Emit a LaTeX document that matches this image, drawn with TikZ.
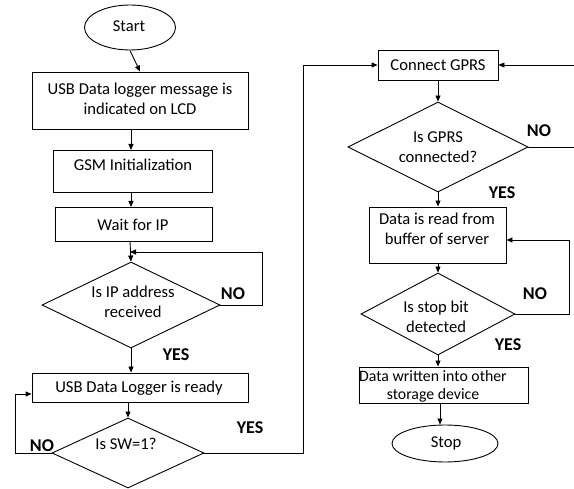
\documentclass[tikz,border=0pt]{standalone}
\usepackage{fontspec}
\setmainfont{Carlito}
\usetikzlibrary{shapes.geometric,arrows.meta}
\begin{document}
\begin{tikzpicture}[x=1pt,y=-1pt,
  line width=0.9pt,
  every node/.style={font=\fontsize{16.6}{20.5}\selectfont},
  box/.style={draw, rectangle, inner sep=0pt},
  dia/.style={draw, diamond, inner sep=0pt},
  oval/.style={draw, ellipse, inner sep=0pt},
  txt/.style={align=center, inner sep=0pt},
  lbl/.style={font=\fontsize{18}{20}\selectfont\bfseries, inner sep=0pt},
  arr/.style={-{Triangle[length=6pt,width=5pt]}}]
\useasboundingbox (0,0) rectangle (574,489);
\clip (0,0) rectangle (574,489);
% left column
\node[oval, minimum width=91pt, minimum height=45pt] (start) at (130,27.5) {};
\node[txt] at (129,26) {Start};
\node[box, minimum width=216pt, minimum height=57pt] (b1) at (140,100.5) {};
\node[txt] at (140,99) {USB Data logger message is\\indicated on LCD};
\node[box, minimum width=159pt, minimum height=42pt] (b2) at (132.5,171) {};
\node[txt] at (133,165) {GSM Initialization};
\node[box, minimum width=157pt, minimum height=34pt] (b3) at (133.5,224) {};
\node[txt] at (133,225) {Wait for IP};
\node[dia, minimum width=178pt, minimum height=86pt] (d1) at (131,305) {};
\node[txt] at (133,302) {Is IP address\\received};
\node[box, minimum width=216pt, minimum height=29pt] (b4) at (140,387.5) {};
\node[txt] at (139,388) {USB Data Logger is ready};
\node[dia, minimum width=152pt, minimum height=70pt] (d2) at (128,453) {};
\node[txt] at (126,444) {Is SW=1?};
% right column
\node[box, minimum width=120pt, minimum height=30pt] (g) at (438,65) {};
\node[txt] at (438,65) {Connect GPRS};
\node[dia, minimum width=180pt, minimum height=90pt] (d3) at (438,147) {};
\node[txt] at (438,147) {Is GPRS\\connected?};
\node[box, minimum width=137pt, minimum height=56pt] (b5) at (437.5,235) {};
\node[txt] at (437,229) {Data is read from\\buffer of server};
\node[dia, minimum width=154pt, minimum height=82pt] (d4) at (438,314) {};
\node[txt] at (436,317) {Is stop bit\\detected};
\node[box, minimum width=169pt, minimum height=36pt] (b6) at (443.5,385) {};
\node[txt, font=\fontsize{15.8}{17.5}\selectfont] at (433,386.5) {Data written into other\\storage device};
\node[oval, minimum width=106pt, minimum height=37pt] (stop) at (445,443.5) {};
\node[txt] at (446,443) {Stop};
% helper coordinates
\coordinate (c1a) at (262,305);
\coordinate (c1b) at (262,252);
\coordinate (c1c) at (130,252);
\coordinate (c2a) at (15,453);
\coordinate (c2b) at (15,394);
\coordinate (c2c) at (303,453);
\coordinate (c2d) at (303,65);
\coordinate (c3a) at (580,147);
\coordinate (c3b) at (580,65);
\coordinate (c4a) at (569,314);
\coordinate (c4b) at (569,240);
% connectors
\draw[arr] (start.south) -- (b1.north);
\draw[arr] (b1.south -| 131,0) -- (131,150);
\draw[arr] (b2.south -| 131,0) -- (131,207);
\draw[arr] (b3.south -| 130,0) -- (d1.north);
\draw[arr] (d1.east) -- (c1a) -- (c1b) -- (c1c);
\draw[arr] (d1.south) -- (b4.north -| d1.south);
\draw[arr] (b4.south -| d2.north) -- (d2.north);
\draw[arr] (d2.west) -- (c2a) -- (c2b) -- (b4.west |- c2b);
\draw[arr] (d2.east) -- (c2c) -- (c2d) -- (g.west);
\draw[arr] (g.south) -- (d3.north);
\draw (d3.east) -- (c3a) -- (c3b);
\draw[arr] (c3b) -- (g.east);
\draw[arr] (d3.south) -- (b5.north -| d3.south);
\draw[arr] (b5.south -| d4.north) -- (d4.north);
\draw[arr] (d4.east) -- (c4a) -- (c4b) -- (b5.east |- c4b);
\draw[arr] (d4.south) -- (b6.north -| d4.south);
\draw[arr] (b6.south -| 440,0) -- (stop.north -| 440,0);
% labels
\node[lbl] at (233,294) {NO};
\node[lbl] at (176,355) {YES};
\node[lbl] at (250,428) {YES};
\node[lbl] at (42,446) {NO};
\node[lbl] at (539,131) {NO};
\node[lbl] at (502,193) {YES};
\node[lbl] at (535,294) {NO};
\node[lbl] at (508,345) {YES};
\end{tikzpicture}
\end{document}
